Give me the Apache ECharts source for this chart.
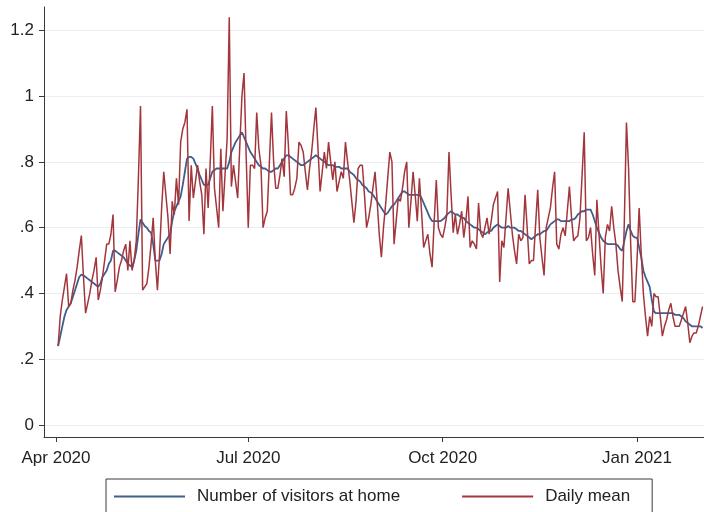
<!DOCTYPE html>
<html>
<head>
<meta charset="utf-8">
<script src="https://cdn.jsdelivr.net/npm/echarts@6/dist/echarts.min.js"></script>
<style>
  html, body { margin: 0; padding: 0; background: #fff; }
  #chart { width: 704px; height: 512px; }
</style>
</head>
<body>
<div id="chart"></div>
<script>
// first observation: 2 Apr 2020, one value per day
const startDate = '2020-04-02';

const visitorsAtHome = [
  0.24, 0.27, 0.30, 0.33, 0.35, 0.36, 0.37, 0.39, 0.41, 0.43,
  0.45, 0.457, 0.455, 0.45, 0.445, 0.44, 0.435, 0.43, 0.425, 0.42,
  0.43, 0.45, 0.46, 0.47, 0.49, 0.50, 0.53, 0.53, 0.525, 0.52,
  0.515, 0.51, 0.50, 0.49, 0.485, 0.48, 0.50, 0.53, 0.58, 0.625,
  0.615, 0.605, 0.60, 0.59, 0.585, 0.55, 0.50, 0.50, 0.50, 0.52,
  0.55, 0.56, 0.57, 0.58, 0.62, 0.65, 0.665, 0.68, 0.695, 0.73,
  0.77, 0.81, 0.815, 0.815, 0.81, 0.795, 0.78, 0.76, 0.745, 0.73,
  0.73, 0.73, 0.75, 0.77, 0.775, 0.78, 0.78, 0.78, 0.78, 0.78,
  0.78, 0.80, 0.83, 0.845, 0.86, 0.87, 0.88, 0.89, 0.875, 0.86,
  0.845, 0.83, 0.82, 0.81, 0.80, 0.79, 0.785, 0.78, 0.78, 0.775,
  0.77, 0.77, 0.775, 0.78, 0.78, 0.79, 0.80, 0.81, 0.82, 0.82,
  0.815, 0.81, 0.805, 0.80, 0.795, 0.79, 0.79, 0.795, 0.80, 0.805,
  0.81, 0.815, 0.82, 0.815, 0.81, 0.805, 0.80, 0.795, 0.79, 0.79,
  0.79, 0.785, 0.785, 0.785, 0.78, 0.78, 0.78, 0.78, 0.77, 0.765,
  0.76, 0.75, 0.745, 0.74, 0.73, 0.725, 0.72, 0.71, 0.707, 0.70,
  0.69, 0.68, 0.67, 0.66, 0.65, 0.64, 0.645, 0.655, 0.665, 0.67,
  0.68, 0.69, 0.70, 0.71, 0.71, 0.705, 0.70, 0.70, 0.70, 0.70,
  0.70, 0.70, 0.69, 0.675, 0.66, 0.645, 0.63, 0.62, 0.62, 0.62,
  0.62, 0.62, 0.625, 0.63, 0.64, 0.645, 0.65, 0.645, 0.64, 0.64,
  0.635, 0.63, 0.63, 0.62, 0.615, 0.61, 0.605, 0.60, 0.60, 0.595,
  0.59, 0.585, 0.58, 0.585, 0.59, 0.59, 0.60, 0.605, 0.61, 0.605,
  0.60, 0.60, 0.60, 0.605, 0.60, 0.60, 0.60, 0.595, 0.59, 0.59,
  0.585, 0.58, 0.575, 0.57, 0.565, 0.57, 0.575, 0.58, 0.58, 0.585,
  0.59, 0.59, 0.60, 0.61, 0.615, 0.62, 0.625, 0.625, 0.62, 0.62,
  0.62, 0.62, 0.62, 0.625, 0.625, 0.63, 0.64, 0.645, 0.65, 0.65,
  0.655, 0.655, 0.655, 0.64, 0.62, 0.60, 0.585, 0.57, 0.56, 0.555,
  0.55, 0.55, 0.55, 0.55, 0.55, 0.545, 0.535, 0.53, 0.56, 0.59,
  0.61, 0.59, 0.575, 0.57, 0.57, 0.54, 0.51, 0.47, 0.45, 0.435,
  0.42, 0.38, 0.345, 0.34, 0.34, 0.34, 0.34, 0.34, 0.34, 0.34,
  0.34, 0.34, 0.335, 0.335, 0.335, 0.33, 0.325, 0.315, 0.31, 0.305,
  0.30, 0.30, 0.30, 0.30, 0.30, 0.295
];

const dailyMean = [
  0.24, 0.33, 0.38, 0.42, 0.46, 0.36, 0.37, 0.41, 0.44, 0.48,
  0.53, 0.576, 0.45, 0.34, 0.37, 0.40, 0.44, 0.47, 0.51, 0.38,
  0.41, 0.45, 0.50, 0.55, 0.55, 0.58, 0.64, 0.405, 0.44, 0.48,
  0.50, 0.53, 0.55, 0.47, 0.56, 0.47, 0.50, 0.56, 0.75, 0.97,
  0.41, 0.42, 0.43, 0.48, 0.55, 0.63, 0.50, 0.41, 0.52, 0.66,
  0.77, 0.70, 0.63, 0.52, 0.68, 0.64, 0.75, 0.67, 0.86, 0.90,
  0.92, 0.96, 0.62, 0.79, 0.69, 0.74, 0.79, 0.74, 0.70, 0.58,
  0.78, 0.66, 0.80, 0.97, 0.72, 0.66, 0.60, 0.84, 0.65, 0.76,
  0.87, 1.24, 0.725, 0.79, 0.74, 0.69, 0.85, 1.00, 1.07, 0.82,
  0.60, 0.79, 0.79, 0.78, 0.95, 0.84, 0.79, 0.60, 0.63, 0.65,
  0.80, 0.95, 0.80, 0.72, 0.72, 0.76, 0.81, 0.755, 0.955, 0.85,
  0.70, 0.70, 0.72, 0.75, 0.86, 0.85, 0.83, 0.77, 0.715, 0.78,
  0.83, 0.90, 0.965, 0.84, 0.71, 0.77, 0.83, 0.78, 0.86, 0.80,
  0.745, 0.80, 0.71, 0.74, 0.77, 0.75, 0.86, 0.80, 0.745, 0.68,
  0.615, 0.68, 0.78, 0.79, 0.79, 0.70, 0.60, 0.63, 0.67, 0.72,
  0.77, 0.68, 0.58, 0.51, 0.60, 0.67, 0.75, 0.83, 0.80, 0.55,
  0.62, 0.69, 0.68, 0.72, 0.77, 0.80, 0.60, 0.68, 0.77, 0.70,
  0.62, 0.75, 0.65, 0.54, 0.56, 0.58, 0.52, 0.48, 0.62, 0.745,
  0.60, 0.58, 0.57, 0.60, 0.64, 0.83, 0.70, 0.585, 0.64, 0.58,
  0.61, 0.65, 0.57, 0.62, 0.695, 0.54, 0.56, 0.55, 0.535, 0.675,
  0.585, 0.57, 0.60, 0.63, 0.58, 0.62, 0.67, 0.69, 0.71, 0.435,
  0.56, 0.54, 0.63, 0.72, 0.65, 0.58, 0.53, 0.49, 0.58, 0.56,
  0.57, 0.70, 0.60, 0.49, 0.50, 0.50, 0.61, 0.715, 0.57, 0.51,
  0.455, 0.60, 0.63, 0.66, 0.72, 0.77, 0.55, 0.535, 0.58, 0.60,
  0.575, 0.65, 0.725, 0.63, 0.56, 0.57, 0.575, 0.63, 0.76, 0.89,
  0.56, 0.57, 0.60, 0.52, 0.455, 0.685, 0.58, 0.48, 0.40, 0.57,
  0.61, 0.59, 0.665, 0.60, 0.55, 0.47, 0.42, 0.375, 0.62, 0.92,
  0.78, 0.55, 0.375, 0.375, 0.50, 0.66, 0.52, 0.40, 0.33, 0.27,
  0.33, 0.30, 0.40, 0.39, 0.39, 0.33, 0.27, 0.30, 0.32, 0.35,
  0.37, 0.33, 0.30, 0.30, 0.30, 0.32, 0.34, 0.36, 0.31, 0.25,
  0.27, 0.28, 0.28, 0.30, 0.33, 0.36
];

const xTickDates = ['2020-04-01', '2020-07-01', '2020-10-01', '2021-01-01'];
const xTickLabels = ['Apr 2020', 'Jul 2020', 'Oct 2020', 'Jan 2021'];
const yTickValues = [0, 0.2, 0.4, 0.6, 0.8, 1, 1.2];
const yTickLabels = ['0', '.2', '.4', '.6', '.8', '1', '1.2'];

// x axis is in days since 1 Apr 2020
const DAY = 86400000;
const origin = Date.parse('2020-04-01T00:00:00Z');
const dayOf = s => Math.round((Date.parse(s + 'T00:00:00Z') - origin) / DAY);
const firstDay = dayOf(startDate);
const xTicks = xTickDates.map(dayOf);

const withDays = arr => arr.map((v, i) => [firstDay + i, v]);

const chart = echarts.init(document.getElementById('chart'));
const font = 'Liberation Sans, Arial, sans-serif';
const blue = '#3e5f8e';
const red = '#a3363c';

const option = {
  animation: false,
  backgroundColor: '#fff',
  grid: { left: 44, right: 0, top: 7, bottom: 75, containLabel: false },
  legend: {
    data: [
      { name: 'Number of visitors at home', icon: 'rect' },
      { name: 'Daily mean', icon: 'rect' }
    ],
    left: 106,
    top: 479,
    orient: 'horizontal',
    itemWidth: 71,
    itemHeight: 2,
    itemGap: 62,
    padding: [9, 22, 10, 8],
    borderColor: '#3a3a3a',
    borderWidth: 1,
    backgroundColor: '#fff',
    textStyle: { fontFamily: font, fontSize: 17, color: '#222', padding: [0, 0, 0, 7] }
  },
  xAxis: {
    type: 'value',
    min: -5.68,
    max: 306.7,
    axisLine: { onZero: false, lineStyle: { color: '#3a3a3a', width: 1 } },
    axisTick: { show: true, length: 5, customValues: xTicks, lineStyle: { color: '#3a3a3a' } },
    axisLabel: {
      customValues: xTicks,
      margin: 13,
      fontFamily: font,
      fontSize: 17,
      color: '#222',
      formatter: val => {
        const k = xTicks.indexOf(Math.round(val));
        return k >= 0 ? xTickLabels[k] : '';
      }
    },
    splitLine: { show: false }
  },
  yAxis: {
    type: 'value',
    min: -0.0365,
    max: 1.271,
    axisLine: { show: true, onZero: false, lineStyle: { color: '#3a3a3a', width: 1 } },
    axisTick: { show: true, length: 5, customValues: yTickValues, lineStyle: { color: '#3a3a3a' } },
    axisLabel: {
      customValues: yTickValues,
      margin: 10,
      fontFamily: font,
      fontSize: 17,
      color: '#222',
      formatter: val => {
        const k = yTickValues.findIndex(v => Math.abs(v - val) < 1e-6);
        return k >= 0 ? yTickLabels[k] : '';
      }
    },
    splitLine: { show: true, lineStyle: { color: '#e8eef3', width: 1 } }
  },
  series: [
    {
      name: 'Number of visitors at home',
      type: 'line',
      symbol: 'none',
      data: withDays(visitorsAtHome),
      lineStyle: { color: blue, width: 1.8 },
      itemStyle: { color: blue },
      z: 2
    },
    {
      name: 'Daily mean',
      type: 'line',
      symbol: 'none',
      data: withDays(dailyMean),
      lineStyle: { color: red, width: 1.5 },
      itemStyle: { color: red },
      z: 3
    }
  ]
};

chart.setOption(option);
</script>
</body>
</html>
